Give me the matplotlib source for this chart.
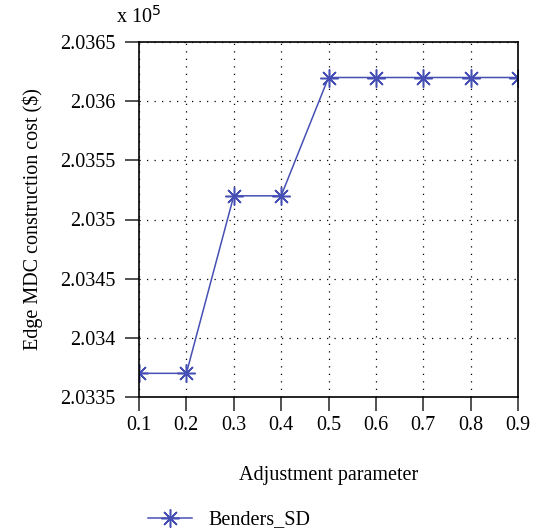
import matplotlib

matplotlib.use("Agg")

import matplotlib.pyplot as plt
from matplotlib.ticker import FixedLocator

# adjustment parameter sweep and resulting edge MDC construction cost (x 1e5 $)
adjustment = [0.1, 0.2, 0.3, 0.4, 0.5, 0.6, 0.7, 0.8, 0.9]
cost_benders_sd = [2.0337, 2.0337, 2.0352, 2.0352, 2.0362, 2.0362, 2.0362, 2.0362, 2.0362]
y_ticks = [2.0335, 2.034, 2.0345, 2.035, 2.0355, 2.036, 2.0365]
y_tick_labels = ["2.0335", "2.034", "2.0345", "2.035", "2.0355", "2.036", "2.0365"]

plt.rcParams["font.family"] = ["Liberation Serif", "DejaVu Serif"]

fig = plt.figure(figsize=(5.45, 5.32), dpi=100)
ax = fig.add_axes([139 / 545, 1 - 397 / 532, (518 - 139) / 545, (397 - 42) / 532])

line, = ax.plot(
    adjustment,
    cost_benders_sd,
    color="#4650b4",
    linewidth=1.1,
    marker=(8, 2, 0),
    markersize=13,
    markeredgewidth=1.1,
)

ax.set_xlim(0.1, 0.9)
ax.set_ylim(2.0335, 2.0365)
ax.xaxis.set_major_locator(FixedLocator(adjustment))
ax.set_xticklabels([f"{v:.1f}" for v in adjustment])
ax.yaxis.set_major_locator(FixedLocator(y_ticks))
ax.set_yticklabels(y_tick_labels)

ax.grid(True, color="black", linestyle=(0, (1, 5)), linewidth=0.9)
for spine in ax.spines.values():
    spine.set_linewidth(1.2)
ax.tick_params(direction="out", length=10, width=1.2, color="#333333",
               labelsize=14.5)
ax.tick_params(axis="x", pad=4)
ax.tick_params(axis="y", pad=7)

ax.set_xlabel("Adjustment parameter", fontsize=14.5, labelpad=22)
ax.set_ylabel("Edge MDC construction cost ($)", fontsize=14.5, labelpad=12)
ax.text(0.0, 1.04, r"x 10$^5$", transform=ax.transAxes, fontsize=14.5,
        ha="center", va="bottom")

fig.legend([line], ["Benders_SD"], loc="center left",
           bbox_to_anchor=(130 / 545, 1 - 520 / 532), frameon=False,
           fontsize=14.5, handlelength=2.2, handletextpad=0.8)

fig.savefig("out.png", dpi=100)
